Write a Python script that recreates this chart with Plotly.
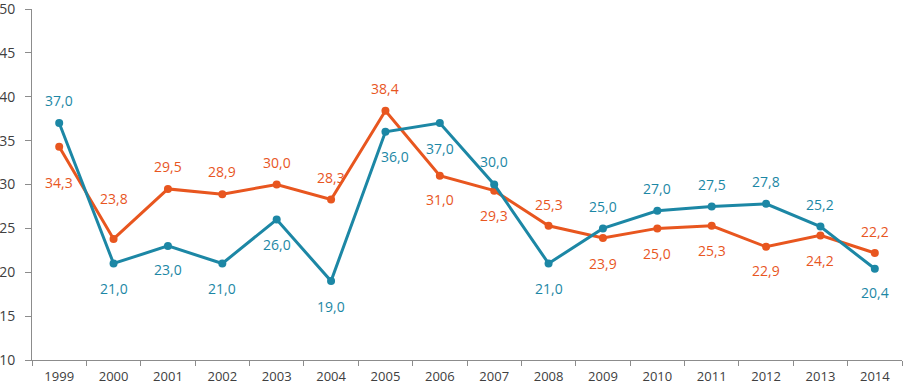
import plotly.graph_objects as go

years = ["1999", "2000", "2001", "2002", "2003", "2004", "2005", "2006",
         "2007", "2008", "2009", "2010", "2011", "2012", "2013", "2014"]
teal_values = [37.0, 21.0, 23.0, 21.0, 26.0, 19.0, 36.0, 37.0,
               30.0, 21.0, 25.0, 27.0, 27.5, 27.8, 25.2, 20.4]
orange_values = [34.3, 23.8, 29.5, 28.9, 30.0, 28.3, 38.4, 31.0,
                 29.3, 25.3, 23.9, 25.0, 25.3, 22.9, 24.2, 22.2]
y_ticks = [10, 15, 20, 25, 30, 35, 40, 45, 50]

# label offsets (pixels, positive = up)
teal_label_dy = [23, -25, -24, -25, -25, -25, -25, -25,
                 23, -25, 22, 22, 22, 22, 22, -24]
teal_label_dx = [0, 0, 0, 0, 0, 0, 10, 0, 0, 0, 0, 0, 0, 0, 0, 0]
orange_label_dy = [-36, 40, 22, 23, 22, 22, 22, -24,
                   -25, 21, -25, -25, -25, -24, -25, 21]

TEAL = "#1C87A5"
ORANGE = "#E8561F"

fig = go.Figure()
for vals, col in [(orange_values, ORANGE), (teal_values, TEAL)]:
    fig.add_trace(go.Scatter(
        x=years, y=vals, mode="lines+markers",
        line=dict(color=col, width=3),
        marker=dict(color=col, size=8),
        hoverinfo="skip", showlegend=False,
    ))

def fmt(v):
    return f"{v:.1f}".replace(".", ",")

annotations = []
for vals, dys, dxs, col in [(teal_values, teal_label_dy, teal_label_dx, TEAL),
                            (orange_values, orange_label_dy, [0] * 16, ORANGE)]:
    for i, (v, dy, dx) in enumerate(zip(vals, dys, dxs)):
        annotations.append(dict(
            x=i, y=v, xref="x", yref="y", text=fmt(v), showarrow=False,
            yshift=dy, xshift=dx,
            font=dict(family="Open Sans", size=14, color=col),
        ))

fig.update_layout(
    width=903, height=384,
    margin=dict(l=32, r=1, t=9, b=24),
    paper_bgcolor="white", plot_bgcolor="white",
    annotations=annotations,
    font=dict(family="Open Sans", color="#404040"),
)
fig.update_xaxes(
    type="category", range=[-0.5, 15.5], tickson="boundaries",
    showline=True, linecolor="#8C8C8C", linewidth=1,
    ticks="outside", ticklen=5, tickcolor="#8C8C8C",
    showgrid=False, zeroline=False, ticklabeloverflow="allow",
    ticklabelstandoff=4, automargin=False,
    tickfont=dict(size=13, color="#404040"),
)
fig.update_yaxes(
    range=[10, 50], tickvals=y_ticks, ticktext=[str(t) for t in y_ticks],
    showline=True, linecolor="#8C8C8C", linewidth=1,
    ticks="outside", ticklen=6, tickcolor="#8C8C8C",
    showgrid=False, zeroline=False, ticklabeloverflow="allow",
    ticklabelstandoff=7, automargin=False,
    tickfont=dict(size=14, color="#404040"),
)

fig.write_html(
    "out.html",
    config={"displayModeBar": False},
    post_script="document.body.style.margin='0';document.body.style.padding='0';",
)
